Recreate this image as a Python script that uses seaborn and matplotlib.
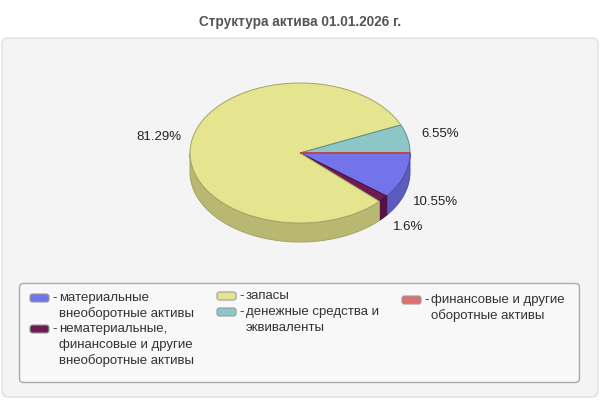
import numpy as np
import matplotlib
matplotlib.use("Agg")
import matplotlib.pyplot as plt
from matplotlib.patches import Polygon, FancyBboxPatch
import seaborn as sns

# ================================
# Data
# ================================
title = "Структура актива 01.01.2026 г."
labels = [
    "материальные\nвнеоборотные активы",
    "нематериальные,\nфинансовые и другие\nвнеоборотные активы",
    "запасы",
    "денежные средства и\nэквиваленты",
    "финансовые и другие\nоборотные активы",
]
shares = [10.55, 1.6, 81.29, 6.55, 0.01]
top_colors = ["#7373EB", "#6E1A55", "#E5E48F", "#8CC6C6", "#E07070"]
side_colors = ["#5C5CBE", "#561244", "#B9B873", "#6E9E9E", "#B45454"]
edge_colors = ["#5050A8", "#4A0E3A", "#A5A460", "#5E8C8C", "#C04848"]

# ================================
# Style
# ================================
sns.set_theme(style="white")
plt.rcParams["font.family"] = ["Liberation Sans", "DejaVu Sans"]

fig = plt.figure(figsize=(6, 4), dpi=100)
ax = fig.add_axes([0, 0, 1, 1])
ax.set_xlim(0, 600)
ax.set_ylim(400, 0)
ax.axis("off")

# title + panel
ax.text(300, 22, title, ha="center", va="center", fontsize=9.8,
        fontweight="bold", color="#555555")
ax.add_patch(FancyBboxPatch((2, 38), 596, 359, boxstyle="round,pad=0,rounding_size=6",
                            facecolor="#F4F4F4", edgecolor="#DEDEDE", lw=1))

# ================================
# 3D pie
# ================================
cx, cy, rx, ry, depth = 300, 153, 110, 70, 19
vals = np.array(shares)
bounds = np.concatenate([[0], np.cumsum(vals) / vals.sum() * 360])


def arc(a0, a1, n=120):
    t = np.radians(np.linspace(a0, a1, n))
    return cx + rx * np.cos(t), cy + ry * np.sin(t)


# side walls (front half only: 0..180 deg, clockwise in screen space)
for i in range(len(vals)):
    a0, a1 = max(bounds[i], 0), min(bounds[i + 1], 180)
    if a1 <= a0:
        continue
    xs, ys = arc(a0, a1)
    pts = np.column_stack([np.r_[xs, xs[::-1]], np.r_[ys, ys[::-1] + depth]])
    ax.add_patch(Polygon(pts, closed=True, facecolor=side_colors[i],
                         edgecolor=edge_colors[i], lw=0.7))

# top faces
for i in range(len(vals)):
    xs, ys = arc(bounds[i], bounds[i + 1])
    pts = np.column_stack([np.r_[cx, xs], np.r_[cy, ys]])
    ax.add_patch(Polygon(pts, closed=True, facecolor=top_colors[i],
                         edgecolor=edge_colors[i], lw=0.7))

# percent labels
for i, v in enumerate(vals):
    if v < 0.5:
        continue
    mid = np.radians((bounds[i] + bounds[i + 1]) / 2)
    lx = cx + 1.3 * rx * np.cos(mid)
    ly = cy + 1.3 * ry * np.sin(mid)
    if np.sin(mid) > 0:
        ly += depth - 5 * (i > 0)
    ax.text(lx, ly, f"{v:g}%", ha="center", va="center", fontsize=9.5,
            color="#222222")

# ================================
# Legend
# ================================
ax.add_patch(FancyBboxPatch((19.5, 283.5), 560, 99, boxstyle="round,pad=0,rounding_size=4",
                            facecolor="#F8F8F8", edgecolor="#AAAAAA", lw=1))
legend_pos = [(30, 298), (30, 329), (217, 296), (217, 312), (402, 300)]
line_h = 15.7
for i, lab in enumerate(labels):
    sx, sy = legend_pos[i]
    ax.add_patch(FancyBboxPatch((sx, sy - 4), 19, 8, boxstyle="round,pad=0,rounding_size=2.5",
                                facecolor=top_colors[i], edgecolor="#999999", lw=0.8))
    ax.text(sx + 22, sy, "-", ha="left", va="center", fontsize=9.5, color="#333333")
    for k, line in enumerate(lab.split("\n")):
        ax.text(sx + 29, sy + k * line_h, line, ha="left", va="center",
                fontsize=9.5, color="#333333")

fig.savefig("out.png", dpi=100, facecolor="white")
